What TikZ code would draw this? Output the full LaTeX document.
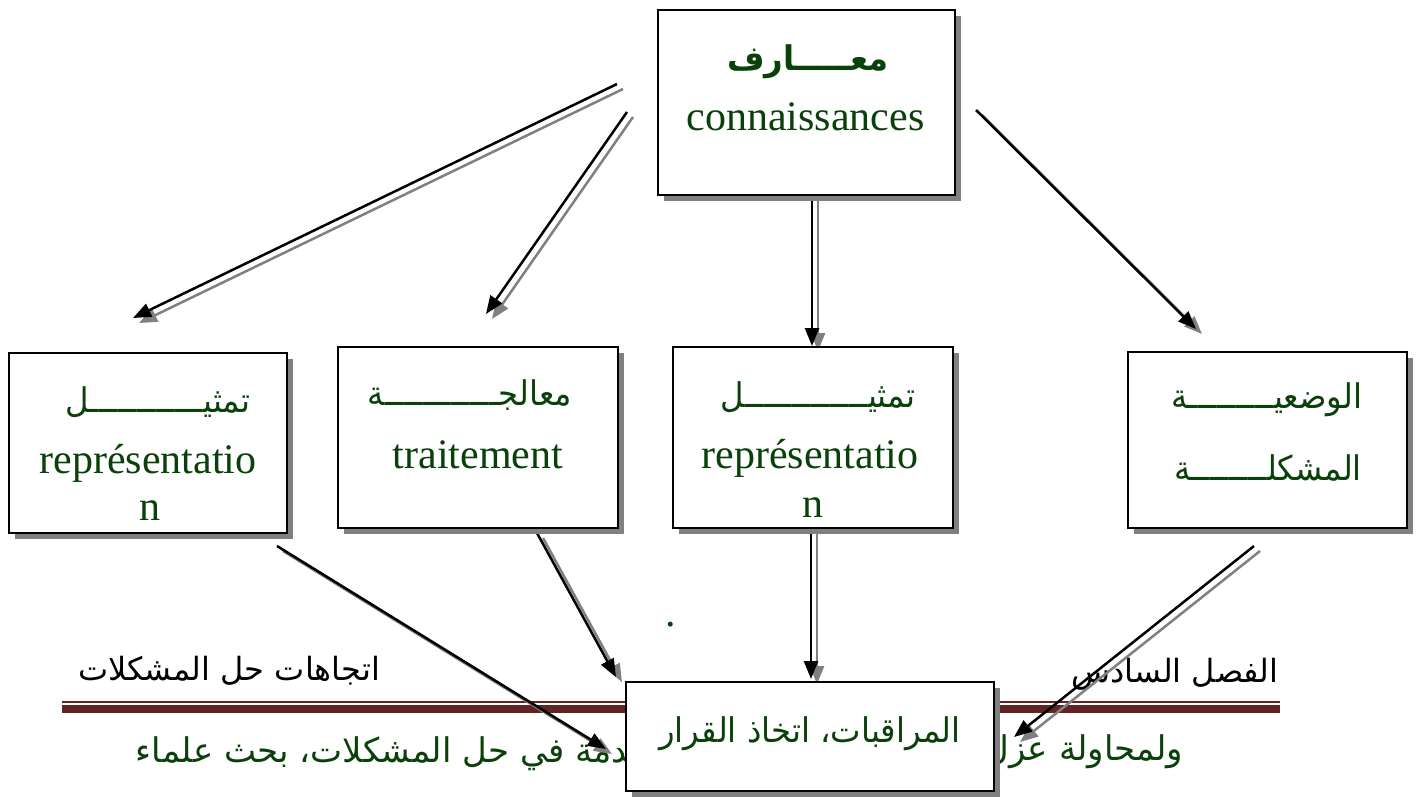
\documentclass[tikz,border=0pt]{standalone}
\usepackage{fontspec}
\setmainfont{Liberation Serif}
\newfontfamily\arabicfont[Script=Arabic]{DejaVu Sans}
\newfontfamily\arabicnarrow[Script=Arabic,FakeStretch=0.95]{DejaVu Sans}
\TeXXeTstate=1
\usetikzlibrary{arrows.meta,shadows}
\definecolor{ink}{RGB}{10,64,10}
\definecolor{rulecol}{RGB}{98,36,35}
\definecolor{shade}{RGB}{128,128,128}
% a run of n tatweel (kashida) characters
\ExplSyntaxOn
\newcommand{\kash}[1]{\prg_replicate:nn{#1}{ـ}}
\ExplSyntaxOff

\begin{document}
\begin{tikzpicture}[x=1pt,y=-1pt,
  box/.style={draw=black, line width=2pt, fill=white, inner sep=0pt,
    drop shadow={shadow xshift=6pt, shadow yshift=-6pt, fill=shade, opacity=1}},
  lat/.style={font=\fontsize{42}{48}\selectfont, text=ink, anchor=base, inner sep=0pt},
  arb/.style={font=\arabicnarrow\fontsize{34}{40}\selectfont, text=ink, anchor=base, inner sep=0pt},
  head/.style={font=\arabicfont\fontsize{32}{36}\selectfont, text=black, anchor=base, inner sep=0pt},
  body/.style={font=\arabicfont\fontsize{34}{40}\selectfont, text=ink, inner sep=0pt},
  link/.style={line width=2.5pt, draw=black, -{Triangle[length=18pt,width=14pt]}},
  linkshade/.style={link, draw=shade}]
\useasboundingbox (0,0) rectangle (1419,796);
\fill[white] (0,0) rectangle (1419,796);

% page header: titles and double rule
\node[head] (hleft) at (229,680) {\beginR اتجاهات حل المشكلات\endR};
\node[head] (hright) at (1175,682) {\beginR الفصل السادس\endR};
\fill[rulecol] (62,701) rectangle (1280,703);
\fill[rulecol] (62,705) rectangle (1280,713);

% running text line
\node[body, anchor=base east] (bright) at (1183,760) {\beginR ولمحاولة عزل\endR};
\node[body, anchor=base east] (bleft) at (640,762) {\beginR ـدمة في حل المشكلات، بحث علماء\endR};

% stray full stop
\node[lat] (dot) at (671,626) {.};

% connector end points
\coordinate (a1s) at (617,84);   \coordinate (a1e) at (133,318);
\coordinate (a2s) at (627,112);  \coordinate (a2e) at (486,314);
\coordinate (a3s) at (812,196);  \coordinate (a3e) at (812,346);
\coordinate (a4s) at (976,110);  \coordinate (a4e) at (1196,329);
\coordinate (a5s) at (277,546);  \coordinate (a5e) at (606,749);
\coordinate (a6s) at (537,533);  \coordinate (a6e) at (616,677);
\coordinate (a7s) at (811,528);  \coordinate (a7e) at (811,679);
\coordinate (a8s) at (1254,546); \coordinate (a8e) at (1014,737);

% arrows with their grey shadows
\foreach \i in {1,...,8}{
  \draw[linkshade] ([shift={(6,5)}]a\i s) -- ([shift={(6,5)}]a\i e);
}
\foreach \i in {1,...,8}{
  \draw[link] (a\i s) -- (a\i e);
}

% boxes
\node[box, minimum width=297pt, minimum height=185pt] (know) at (806.5,102.5) {};
\node[box, minimum width=278pt, minimum height=180pt] (repA) at (148,443) {};
\node[box, minimum width=280pt, minimum height=181pt] (treat) at (478,437.5) {};
\node[box, minimum width=280pt, minimum height=181pt] (repB) at (813,437.5) {};
\node[box, minimum width=279pt, minimum height=176pt] (prob) at (1267.5,440) {};
\node[box, minimum width=368pt, minimum height=109pt] (decide) at (810,736.5) {};

% box texts
\node[arb, font=\arabicnarrow\bfseries\fontsize{34}{40}\selectfont] (knowAr) at (808,70) {\beginR مع\kash{5}ارف\endR};
\node[lat] (knowFr) at (805.5,130) {connaissances};

\node[arb] (repAar) at (158,412) {\beginR تمثي\kash{12}ل\endR};
\node[lat] (repAfr) at (148,473) {représentatio};
\node[lat] (repAn) at (150,520) {n};

\node[arb] (treatAr) at (470,405) {\beginR معالج\kash{12}ة\endR};
\node[lat] (treatFr) at (478,468) {traitement};

\node[arb] (repBar) at (818,407) {\beginR تمثي\kash{13}ل\endR};
\node[lat] (repBfr) at (810,468) {représentatio};
\node[lat] (repBn) at (813,517) {n};

\node[arb] (probA) at (1267,408) {\beginR الوضعي\kash{9}ة\endR};
\node[arb] (probB) at (1268,480) {\beginR المشكل\kash{8}ة\endR};

\node[arb] (decideAr) at (810,742) {\beginR المراقبات، اتخاذ القرار\endR};
\end{tikzpicture}
\end{document}
